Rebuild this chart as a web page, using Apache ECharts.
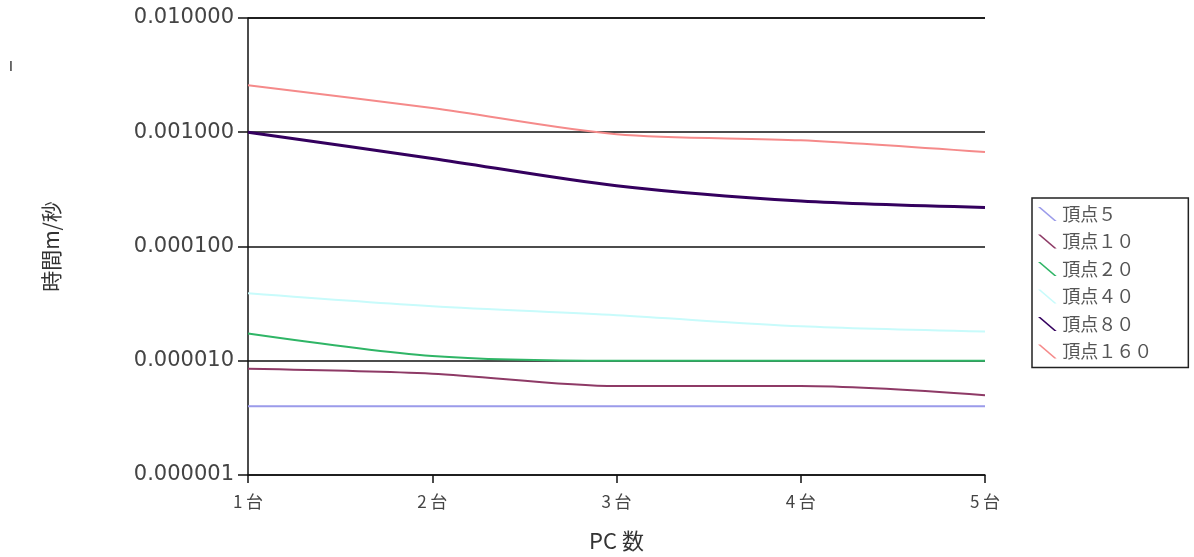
<!DOCTYPE html>
<html>
<head>
<meta charset="utf-8">
<style>
    html, body { margin: 0; padding: 0; background: #fff; }
    #chart { width: 1194px; height: 557px; }
</style>
<script src="https://cdn.jsdelivr.net/npm/echarts@6/dist/echarts.min.js"></script>
</head>
<body>
<div id="chart"></div>
<script>
// categories and series (seconds, log scale)
var categories = ["1 台", "2 台", "3 台", "4 台", "5 台"];
var names = ["頂点５", "頂点１０", "頂点２０", "頂点４０", "頂点８０", "頂点１６０"];
var v5 = [0.000004, 0.000004, 0.000004, 0.000004, 0.000004];
var v10 = [0.0000085, 0.0000077, 0.000006, 0.000006, 0.000005];
var v20 = [0.0000173, 0.000011, 0.00001, 0.00001, 0.00001];
var v40 = [0.000039, 0.00003, 0.000025, 0.00002, 0.000018];
var v80 = [0.001, 0.00059, 0.00034, 0.00025, 0.00022];
var v160 = [0.00258, 0.00163, 0.00096, 0.00085, 0.00067];

var colors = ["#9b9bea", "#8e3a66", "#2fb566", "#c8fbfb", "#34005e", "#f58a8a"];
var widths = [2, 2, 2, 2, 3, 2];
var allData = [v5, v10, v20, v40, v80, v160];

var chart = echarts.init(document.getElementById("chart"));

var series = names.map(function (n, i) {
    return {
        name: n,
        type: "line",
        data: allData[i],
        smooth: 0.3,
        symbol: "none",
        lineStyle: { color: colors[i], width: widths[i] },
        itemStyle: { color: colors[i] },
        animation: false
    };
});

chart.setOption({
    textStyle: { fontFamily: "DejaVu Sans" },
    grid: { left: 248, right: 209, top: 18, bottom: 82 },
    legend: {
        orient: "vertical",
        left: 1032,
        top: 198,
        padding: [7, 36, 7, 6],
        itemGap: 9.5,
        itemWidth: 20,
        itemHeight: 14,
        itemTextGap: 8,
        borderColor: "#222",
        borderWidth: 1.5,
        borderRadius: 0,
        icon: "path://M0,0 L2,0 L16,12 L14,12 Z",
        textStyle: { color: "#555", fontSize: 18, lineHeight: 18, fontFamily: "Noto Sans CJK JP" },
        data: names
    },
    xAxis: {
        type: "category",
        data: categories,
        boundaryGap: false,
        name: "PC 数",
        nameLocation: "middle",
        nameGap: 55,
        nameTextStyle: { color: "#333", fontSize: 22, fontFamily: "Noto Sans CJK JP" },
        axisLine: { lineStyle: { color: "#111", width: 1.5 } },
        axisTick: { show: true, length: 8, lineStyle: { color: "#111", width: 1.5 } },
        axisLabel: { color: "#444", fontSize: 17, margin: 18, fontFamily: "Noto Sans CJK JP" },
        splitLine: { show: false }
    },
    yAxis: {
        type: "log",
        logBase: 10,
        min: 0.000001,
        max: 0.01,
        name: "時間m/秒",
        nameLocation: "middle",
        nameRotate: 90,
        nameGap: 186,
        nameTextStyle: { color: "#333", fontSize: 21, fontFamily: "Noto Sans CJK JP" },
        axisLine: { show: true, lineStyle: { color: "#111", width: 1.5 } },
        axisTick: { show: true, length: 10, lineStyle: { color: "#111", width: 1.5 } },
        axisLabel: {
            color: "#444",
            fontSize: 21,
            margin: 14,
            formatter: function (v) { return v.toFixed(6); }
        },
        splitLine: { show: true, lineStyle: { color: "#111", width: 1.5 } },
        minorTick: { show: false }
    },
    graphic: [
        { type: "text", left: 9, top: 60, style: { text: "I", fontSize: 14, fill: "#222" } }
    ],
    series: series
});
</script>
</body>
</html>
